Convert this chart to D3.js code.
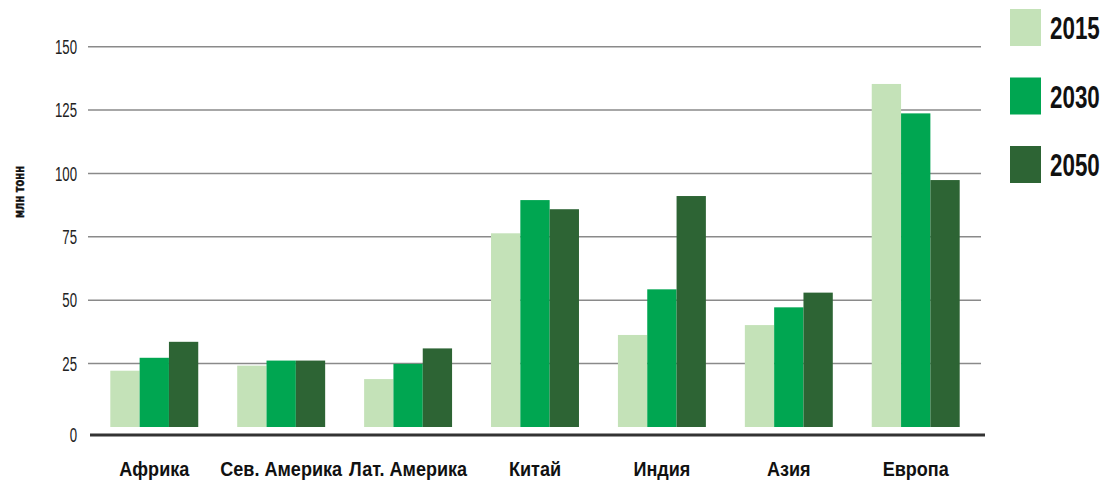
<!DOCTYPE html>
<html><head><meta charset="utf-8">
<script src="https://cdn.jsdelivr.net/npm/d3@7"></script>
<style>
body{margin:0;background:#fff;}
text{font-family:"Liberation Sans Narrow","Arial Narrow","Liberation Sans",sans-serif;}
</style></head>
<body><svg id="c" width="1108" height="486"></svg>
<script>
const categories = ["Африка","Сев. Америка","Лат. Америка","Китай","Индия","Азия","Европа"];
const seriesNames = ["2015","2030","2050"];
const values2015 = [22.2, 24.2, 18.9, 76.4, 36.3, 40.2, 135.3];
const values2030 = [27.3, 26.2, 24.9, 89.5, 54.3, 47.2, 123.7];
const values2050 = [33.6, 26.2, 31.0, 85.9, 91.1, 53.0, 97.4];
const yTicks = [0, 25, 50, 75, 100, 125, 150];
const yLabel = "млн тонн";
const colors = ["#c4e2b8", "#00a651", "#2d6434"];

const series = [values2015, values2030, values2050];
const svg = d3.select("#c");

const x0 = d3.scaleBand().domain(categories).range([90, 980]).paddingInner(0.307).paddingOuter(0.16);
const x1 = d3.scaleBand().domain(seriesNames).range([0, x0.bandwidth()]);
const y = d3.scaleLinear().domain([0, 150]).range([427, 46.7]);
const axisY = 435;

// gridlines
svg.append("g").selectAll("line").data(yTicks.filter(t => t > 0)).join("line")
  .attr("x1", 88).attr("x2", 981)
  .attr("y1", d => y(d)).attr("y2", d => y(d))
  .attr("stroke", "#8a8a8a").attr("stroke-width", 1.5);

// axis line
svg.append("line").attr("x1", 90).attr("x2", 985).attr("y1", axisY).attr("y2", axisY)
  .attr("stroke", "#333").attr("stroke-width", 3);

// tick labels (condensed)
svg.append("g").selectAll("text").data(yTicks).join("text")
  .attr("transform", d => `translate(77,${d === 0 ? axisY : y(d)}) scale(0.66,1)`)
  .attr("dy", "0.36em").attr("text-anchor", "end")
  .attr("font-size", 20).attr("fill", "#222")
  .text(d => d);

// bars
const g = svg.append("g");
categories.forEach((c, i) => {
  series.forEach((s, j) => {
    g.append("rect")
      .attr("x", x0(c) + x1(seriesNames[j]))
      .attr("y", y(s[i]))
      .attr("width", x1.bandwidth())
      .attr("height", y(0) - y(s[i]))
      .attr("fill", colors[j]);
  });
});

// x labels
svg.append("g").selectAll("text").data(categories).join("text")
  .attr("transform", d => `translate(${x0(d) + x0.bandwidth() / 2},476) scale(0.86,1)`)
  .attr("text-anchor", "middle")
  .attr("font-size", 21).attr("font-weight", "bold").attr("fill", "#111")
  .text(d => d);

// y label
svg.append("text").attr("transform", "translate(24,192) rotate(-90)")
  .attr("text-anchor", "middle").attr("font-size", 14).attr("font-weight", "bold")
  .attr("textLength", 52).attr("lengthAdjust", "spacingAndGlyphs")
  .style("font-family", "'DejaVu Sans', sans-serif")
  .attr("stroke", "#111").attr("stroke-width", 0.4)
  .attr("fill", "#111").text(yLabel);

// legend
const leg = svg.append("g");
seriesNames.forEach((n, j) => {
  const ly = 9 + j * 68.5;
  leg.append("rect").attr("x", 1010).attr("y", ly).attr("width", 31).attr("height", 37).attr("fill", colors[j]);
  leg.append("text").attr("transform", `translate(1050,${ly + 30}) scale(0.7,1)`)
    .attr("font-size", 32).attr("font-weight", "bold").attr("fill", "#111").text(n);
});
</script></body></html>
